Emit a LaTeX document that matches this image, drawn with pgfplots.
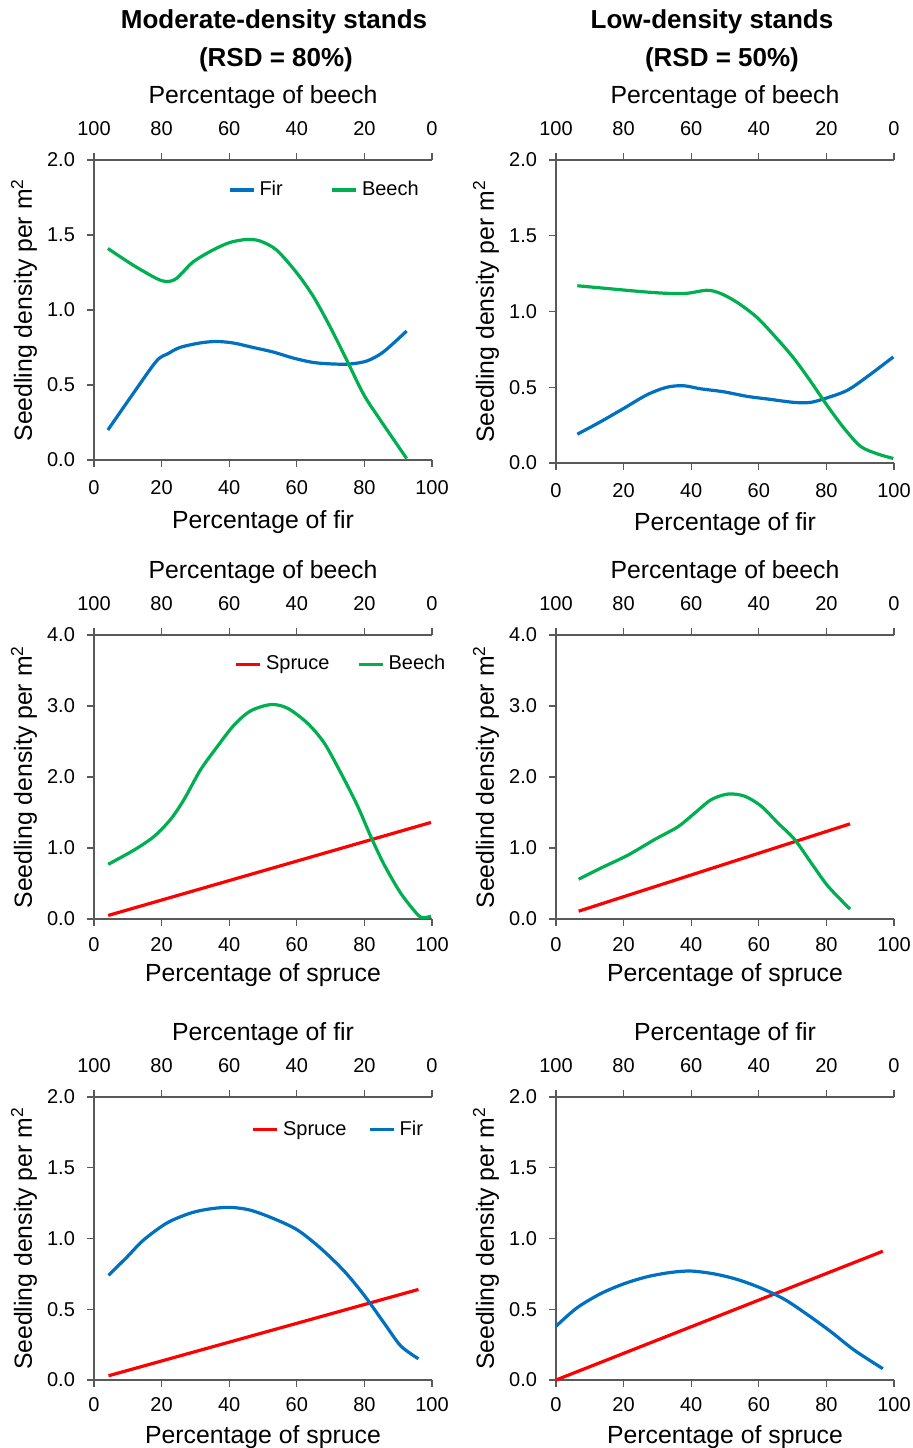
\documentclass[border=0pt]{standalone}
\usepackage{pgfplots}
\pgfplotsset{compat=1.18}
\usepackage{fontspec}
\setmainfont{Liberation Sans}
\definecolor{firblue}{HTML}{0070C0}
\definecolor{beechgreen}{HTML}{00B050}
\definecolor{sprucered}{HTML}{FF0000}

\newcommand\labfont{\fontsize{12.4}{15}\selectfont}

\pgfplotsset{
  base/.style={scale only axis, width=169pt, xmin=0, xmax=100, ymin=0,
    xtick={0,20,...,100},
    axis line style={black!65, line width=0.6pt},
    every tick/.style={black!65, line width=0.6pt},
    major tick length=3.5pt, tick align=outside,
    tick label style={font=\fontsize{10}{12}\selectfont},
    /pgf/number format/assume math mode=true,
    clip=false},
  % lower x axis + y axis; #1 = tick label shift, #2 = label distance
  main/.style 2 args={base, axis x line*=bottom, axis y line*=left,
    xticklabel shift=#1,
    every axis x label/.style={at={([yshift=-#2]axis description cs:0.5,0)}, anchor=center, font=\labfont},
    every axis y label/.style={at={([xshift=-35pt]axis description cs:0,0.5)}, anchor=center, rotate=90, font=\labfont},
    yticklabel style={/pgf/number format/fixed, /pgf/number format/fixed zerofill,
      /pgf/number format/precision=1},
    yticklabel shift=2.5pt,
    legend style={draw=none, fill=none, legend columns=2, anchor=center,
      font=\fontsize{10}{12}\selectfont},
    legend image code/.code={\draw[##1] (0pt,0pt) -- (12pt,0pt);}},
  % upper (reversed) x axis
  topx/.style={base, axis x line*=top, axis y line=none, x dir=reverse,
    ymin=0, ymax=1, xticklabel shift=5pt,
    every axis x label/.style={at={([yshift=31.5pt]axis description cs:0.5,1)}, anchor=center, font=\labfont}},
  curve/.style={smooth, line width=1.6pt, no markers},
}

\begin{document}
\begin{tikzpicture}
\path[use as bounding box] (0pt,0pt) rectangle (456pt,724pt);

\node[font=\bfseries\fontsize{13}{15}\selectfont] at (137pt,713pt) {Moderate-density stands};
\node[font=\bfseries\fontsize{13}{15}\selectfont] at (138pt,694pt) {(RSD = 80\%)};
\node[font=\bfseries\fontsize{13}{15}\selectfont] at (356pt,713pt) {Low-density stands};
\node[font=\bfseries\fontsize{13}{15}\selectfont] at (361pt,694pt) {(RSD = 50\%)};

% ---- row 1, left: fir / beech, moderate density
\begin{axis}[main={3pt}{31pt}, at={(47pt,494pt)}, anchor=south west, height=150pt,
    ymax=2, ytick={0,0.5,...,2},
    xlabel={Percentage of fir}, ylabel={Seedling density per m\textsuperscript{2}},
    legend style={at={(axis cs:68.5,1.8)}, /tikz/every even column/.append style={column sep=22pt}}]
\addplot[curve, firblue] coordinates {
 (4.1,0.20) (11.5,0.44) (18.5,0.66) (22.0,0.71) (25.4,0.75) (31.3,0.78) (36.2,0.79) (41.2,0.78)
 (47.1,0.75) (53.0,0.72) (58.9,0.68) (64.9,0.65) (70.8,0.64) (75.7,0.64) (80.7,0.66)
 (85.6,0.72) (92.5,0.86)};
\addplot[curve, beechgreen] coordinates {
 (4.1,1.41) (11.5,1.30) (18.5,1.21) (21.4,1.19) (24.4,1.21) (29.3,1.32) (35.2,1.40)
 (40.2,1.45) (45.1,1.47) (49.1,1.46) (54.0,1.40) (59.9,1.25) (64.9,1.09) (69.8,0.89)
 (74.7,0.67) (79.7,0.44) (84.6,0.27) (92.5,0.01)};
\legend{Fir, Beech}
\end{axis}
\begin{axis}[topx, at={(47pt,494pt)}, anchor=south west, height=150pt,
    xlabel={Percentage of beech}]
\addplot[draw=none] coordinates {(0,0)};
\end{axis}

% ---- row 1, right: fir / beech, low density
\begin{axis}[main={3pt}{30.5pt}, at={(278pt,492.5pt)}, anchor=south west, height=151.5pt,
    ymax=2, ytick={0,0.5,...,2},
    xlabel={Percentage of fir}, ylabel={Seedling density per m\textsuperscript{2}}]
\addplot[curve, firblue] coordinates {
 (6.3,0.19) (13.0,0.27) (20.0,0.36) (26.9,0.45) (32.8,0.50) (37.7,0.51) (42.7,0.49)
 (49.6,0.47) (56.5,0.44) (63.4,0.42) (70.4,0.40) (75.3,0.40) (80.2,0.43) (86.2,0.48)
 (92.1,0.57) (99.8,0.70)};
\addplot[curve, beechgreen] coordinates {
 (6.3,1.17) (16.0,1.15) (25.9,1.13) (32.8,1.12) (38.7,1.12) (44.7,1.14) (48.6,1.12)
 (53.6,1.06) (59.5,0.96) (65.4,0.82) (70.4,0.69) (75.3,0.54) (80.2,0.38) (85.2,0.23)
 (90.1,0.11) (95.1,0.06) (99.8,0.03)};
\end{axis}
\begin{axis}[topx, at={(278pt,492.5pt)}, anchor=south west, height=151.5pt,
    xlabel={Percentage of beech}]
\addplot[draw=none] coordinates {(0,0)};
\end{axis}

% ---- row 2, left: spruce / beech, moderate density
\begin{axis}[main={2pt}{28pt}, at={(47pt,264.5pt)}, anchor=south west, height=142pt,
    ymax=4, ytick={0,1,...,4},
    xlabel={Percentage of spruce}, ylabel={Seedling density per m\textsuperscript{2}},
    legend style={at={(axis cs:73.4,3.59)}, /tikz/every even column/.append style={column sep=12pt}}]
\addplot[curve, sprucered] coordinates {(4.2,0.05) (99.7,1.36)};
\addplot[curve, beechgreen] coordinates {
 (4.2,0.77) (11.8,0.97) (17.7,1.16) (22.6,1.40) (26.6,1.68) (31.5,2.10) (36.5,2.43)
 (41.4,2.73) (46.3,2.93) (52.3,3.02) (57.2,2.97) (63.1,2.76) (68.1,2.48) (73.0,2.06)
 (78.0,1.59) (81.9,1.16) (85.9,0.76) (90.8,0.36) (95.8,0.06) (97.7,0.02) (99.7,0.04)};
\legend{Spruce, Beech}
\end{axis}
\begin{axis}[topx, at={(47pt,264.5pt)}, anchor=south west, height=142pt,
    xlabel={Percentage of beech}]
\addplot[draw=none] coordinates {(0,0)};
\end{axis}

% ---- row 2, right: spruce / beech, low density
\begin{axis}[main={2pt}{28pt}, at={(278pt,264.5pt)}, anchor=south west, height=142pt,
    ymax=4, ytick={0,1,...,4},
    xlabel={Percentage of spruce}, ylabel={Seedlind density per m\textsuperscript{2}}]
\addplot[curve, sprucered] coordinates {(6.7,0.11) (87.0,1.34)};
\addplot[curve, beechgreen] coordinates {
 (6.7,0.56) (13.4,0.72) (21.3,0.90) (29.2,1.12) (36.1,1.30) (41.0,1.49) (45.9,1.68)
 (50.9,1.76) (55.8,1.73) (60.7,1.59) (65.7,1.35) (70.6,1.12) (75.5,0.79) (80.5,0.46)
 (87.0,0.14)};
\end{axis}
\begin{axis}[topx, at={(278pt,264.5pt)}, anchor=south west, height=142pt,
    xlabel={Percentage of beech}]
\addplot[draw=none] coordinates {(0,0)};
\end{axis}

% ---- row 3, left: spruce / fir, moderate density
\begin{axis}[main={1.5pt}{28.5pt}, at={(47pt,34pt)}, anchor=south west, height=141.5pt,
    ymax=2, ytick={0,0.5,...,2},
    xlabel={Percentage of spruce}, ylabel={Seedling density per m\textsuperscript{2}},
    legend style={at={(axis cs:72.6,1.77)}, /tikz/every even column/.append style={column sep=9pt}}]
\addplot[curve, sprucered] coordinates {(4.3,0.03) (96.0,0.64)};
\addplot[curve, firblue] coordinates {
 (4.3,0.74) (9.8,0.87) (14.7,0.99) (21.6,1.11) (28.6,1.18) (34.5,1.21) (40.4,1.22)
 (46.3,1.20) (53.2,1.14) (60.2,1.06) (67.1,0.93) (74.0,0.77) (79.9,0.60) (85.9,0.40)
 (90.8,0.24) (96.0,0.15)};
\legend{Spruce, Fir}
\end{axis}
\begin{axis}[topx, at={(47pt,34pt)}, anchor=south west, height=141.5pt,
    xlabel={Percentage of fir}]
\addplot[draw=none] coordinates {(0,0)};
\end{axis}

% ---- row 3, right: spruce / fir, low density
\begin{axis}[main={1.5pt}{28.5pt}, at={(278pt,34pt)}, anchor=south west, height=141.5pt,
    ymax=2, ytick={0,0.5,...,2},
    xlabel={Percentage of spruce}, ylabel={Seedling density per m\textsuperscript{2}}]
\addplot[curve, sprucered] coordinates {(0,0) (96.7,0.91)};
\addplot[curve, firblue] coordinates {
 (0,0.38) (6.2,0.51) (13.2,0.61) (20.1,0.68) (27.0,0.73) (33.9,0.76) (39.9,0.77)
 (46.8,0.75) (53.7,0.71) (60.6,0.65) (67.6,0.57) (74.5,0.46) (81.4,0.34) (88.3,0.21)
 (96.7,0.08)};
\end{axis}
\begin{axis}[topx, at={(278pt,34pt)}, anchor=south west, height=141.5pt,
    xlabel={Percentage of fir}]
\addplot[draw=none] coordinates {(0,0)};
\end{axis}
\end{tikzpicture}
\end{document}
